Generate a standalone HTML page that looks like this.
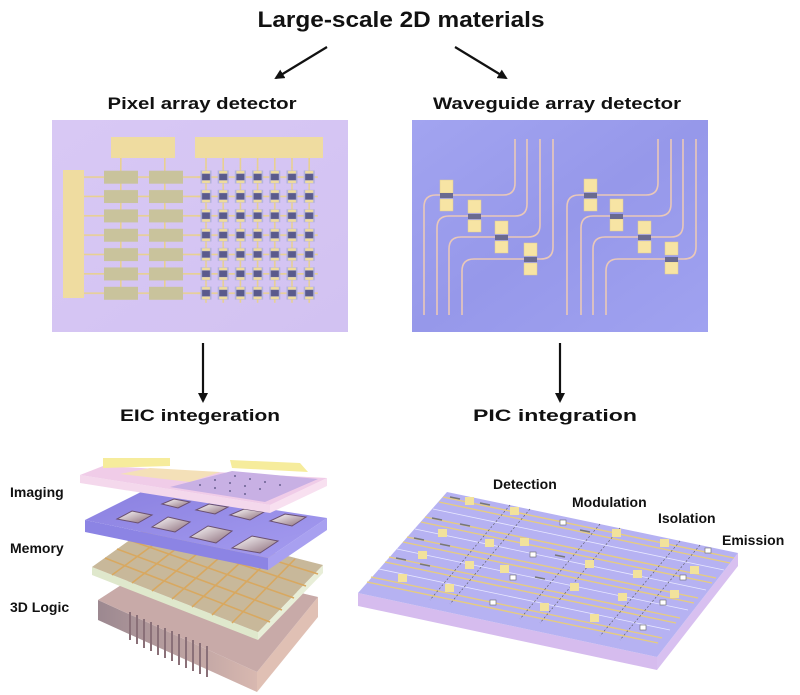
<!DOCTYPE html>
<html><head><meta charset="utf-8"><style>
html,body{margin:0;padding:0;background:#fff;}
svg{display:block;}
text{font-family:"Liberation Sans",sans-serif;font-weight:bold;fill:#111;}
</style></head><body>
<svg width="800" height="695" viewBox="0 0 800 695" xmlns="http://www.w3.org/2000/svg">
<defs>
<marker id="ah" markerWidth="10" markerHeight="10" refX="8" refY="5" orient="auto" markerUnits="userSpaceOnUse">
<path d="M0,0 L10,5 L0,10 Z" fill="#111"/></marker>
<pattern id="pix" x="197.4" y="167.3" width="17.2" height="19.35" patternUnits="userSpaceOnUse">
<rect x="0" y="9" width="17.2" height="1.6" fill="#e8d090"/>
<rect x="7.8" y="0" width="1.6" height="19.35" fill="#e8d090"/>
<rect x="3.1" y="3.2" width="11" height="13" fill="#b0b0dc"/>
<rect x="4.6" y="6.5" width="8" height="6.4" fill="#5a5a8c"/>
<rect x="4.6" y="3.6" width="8" height="2.6" fill="#f0dc9c"/>
<rect x="4.6" y="13.2" width="8" height="2.6" fill="#f0dc9c"/>
</pattern>
<pattern id="grn" x="100" y="167.3" width="100" height="19.35" patternUnits="userSpaceOnUse">
<rect x="0" y="9" width="100" height="1.6" fill="#e8d090"/>
<rect x="4" y="3.4" width="34" height="13" fill="#c9c39c"/>
<rect x="49" y="3.4" width="34" height="13" fill="#c9c39c"/>
</pattern>
<linearGradient id="lg1" x1="0" y1="0" x2="1" y2="1"><stop offset="0" stop-color="#d8c8f4"/><stop offset="1" stop-color="#d2c2f2"/></linearGradient>
<linearGradient id="lg2" x1="0" y1="0" x2="1" y2="1"><stop offset="0" stop-color="#a2a4f0"/><stop offset="0.5" stop-color="#9698ea"/><stop offset="1" stop-color="#a0a2f0"/></linearGradient>
<linearGradient id="mem" x1="0" y1="0" x2="1" y2="1"><stop offset="0" stop-color="#8a80e0"/><stop offset="1" stop-color="#a59cf0"/></linearGradient>
<linearGradient id="logic" x1="0" y1="0" x2="1" y2="0"><stop offset="0" stop-color="#9c8890"/><stop offset="1" stop-color="#d8b8b0"/></linearGradient>
<linearGradient id="win" x1="0" y1="0" x2="1" y2="1"><stop offset="0" stop-color="#fff"/><stop offset="1" stop-color="#8a6a78"/></linearGradient>
</defs>

<text x="401" y="27" font-size="22" text-anchor="middle" textLength="287" lengthAdjust="spacingAndGlyphs">Large-scale 2D materials</text>
<line x1="327" y1="47" x2="276" y2="78" stroke="#111" stroke-width="2.2" marker-end="url(#ah)"/>
<line x1="455" y1="47" x2="506" y2="78" stroke="#111" stroke-width="2.2" marker-end="url(#ah)"/>
<text x="202" y="109" font-size="17" text-anchor="middle" textLength="189" lengthAdjust="spacingAndGlyphs">Pixel array detector</text>
<text x="557" y="109" font-size="17" text-anchor="middle" textLength="248" lengthAdjust="spacingAndGlyphs">Waveguide array detector</text>

<!-- pixel panel -->
<rect x="52" y="120" width="296" height="212" fill="url(#lg1)"/>
<rect x="111" y="137" width="64" height="21" fill="#efdca0"/>
<rect x="195" y="137" width="128" height="21" fill="#efdca0"/>
<rect x="120" y="158" width="1.6" height="140" fill="#e8d090"/>
<rect x="164" y="158" width="1.6" height="140" fill="#e8d090"/>
<rect x="84" y="167" width="116" height="136" fill="url(#grn)"/>
<g fill="#e8d090">
<rect x="205.2" y="158" width="1.6" height="10"/><rect x="222.4" y="158" width="1.6" height="10"/><rect x="239.6" y="158" width="1.6" height="10"/><rect x="256.8" y="158" width="1.6" height="10"/><rect x="274" y="158" width="1.6" height="10"/><rect x="291.2" y="158" width="1.6" height="10"/><rect x="308.4" y="158" width="1.6" height="10"/>
</g>
<rect x="197.4" y="167.3" width="120.4" height="135.5" fill="url(#pix)"/>
<rect x="63" y="170" width="21" height="128" fill="#efdca0"/>

<!-- waveguide panel -->
<rect x="412" y="120" width="296" height="212" fill="url(#lg2)"/>
<g fill="none" stroke="#eac8b8" stroke-width="1.6">
<path d="M424,315 V207 Q424,195 436,195 H503 Q515,195 515,183 V139"/>
<path d="M437,315 V228 Q437,216 449,216 H515 Q527,216 527,204 V139"/>
<path d="M449,315 V249 Q449,237 461,237 H528 Q540,237 540,225 V139"/>
<path d="M462,315 V271 Q462,259 474,259 H541 Q553,259 553,247 V139"/>
<path d="M567,315 V207 Q567,195 579,195 H646 Q658,195 658,183 V139"/>
<path d="M581,315 V228 Q581,216 593,216 H659 Q671,216 671,204 V139"/>
<path d="M593,315 V249 Q593,237 605,237 H671 Q683,237 683,225 V139"/>
<path d="M606,315 V271 Q606,259 618,259 H684 Q696,259 696,247 V139"/>
</g>
<g fill="#f7e4a4" stroke="#e0cc90" stroke-width="0.5">
<rect x="440" y="180" width="13" height="13"/><rect x="440" y="199" width="13" height="12"/>
<rect x="468" y="200" width="13" height="13"/><rect x="468" y="220" width="13" height="12"/>
<rect x="495" y="221" width="13" height="13"/><rect x="495" y="241" width="13" height="12"/>
<rect x="524" y="243" width="13" height="13"/><rect x="524" y="263" width="13" height="12"/>
<rect x="584" y="179" width="13" height="13"/><rect x="584" y="199" width="13" height="12"/>
<rect x="610" y="199" width="13" height="13"/><rect x="610" y="219" width="13" height="12"/>
<rect x="638" y="221" width="13" height="13"/><rect x="638" y="241" width="13" height="12"/>
<rect x="665" y="242" width="13" height="13"/><rect x="665" y="262" width="13" height="12"/>
</g>
<g fill="#6a6a90">
<rect x="440" y="193" width="13" height="5"/><rect x="468" y="214" width="13" height="5"/>
<rect x="495" y="235" width="13" height="5"/><rect x="524" y="257" width="13" height="5"/>
<rect x="584" y="193" width="13" height="5"/><rect x="610" y="214" width="13" height="5"/>
<rect x="638" y="235" width="13" height="5"/><rect x="665" y="257" width="13" height="5"/>
</g>

<line x1="203" y1="343" x2="203" y2="401" stroke="#111" stroke-width="2.2" marker-end="url(#ah)"/>
<line x1="560" y1="343" x2="560" y2="401" stroke="#111" stroke-width="2.2" marker-end="url(#ah)"/>
<text x="200" y="421" font-size="17" text-anchor="middle" textLength="160" lengthAdjust="spacingAndGlyphs">EIC integeration</text>
<text x="555" y="421" font-size="17" text-anchor="middle" textLength="164" lengthAdjust="spacingAndGlyphs">PIC integration</text>

<!-- logic -->
<polygon points="98,600 257,672 257,692 98,620" fill="url(#logic)"/>
<polygon points="257,672 318,597 318,617 257,692" fill="#e0c0b4"/>
<polygon points="98,600 160,560 318,597 257,672" fill="#c8aaa8"/>
<g stroke="#8a7078" stroke-width="2">
<line x1="130" y1="612" x2="130" y2="640"/><line x1="137" y1="615" x2="137" y2="644"/><line x1="144" y1="619" x2="144" y2="648"/>
<line x1="151" y1="622" x2="151" y2="651"/><line x1="158" y1="625" x2="158" y2="655"/><line x1="165" y1="628" x2="165" y2="658"/>
<line x1="172" y1="631" x2="172" y2="661"/><line x1="179" y1="634" x2="179" y2="665"/><line x1="186" y1="637" x2="186" y2="668"/>
<line x1="193" y1="640" x2="193" y2="671"/><line x1="200" y1="643" x2="200" y2="674"/><line x1="207" y1="646" x2="207" y2="677"/>
</g>
<!-- grid layer -->
<polygon points="92,567 258,632 258,640 92,575" fill="#dfe8cc"/>
<polygon points="258,632 323,565 323,573 258,640" fill="#e8eed8"/>
<polygon points="92,567 155,522 323,565 258,632" fill="#c8b89a"/>
<g stroke="#d8a860" stroke-width="1.6">
<line x1="105" y1="558" x2="270" y2="622"/><line x1="117" y1="549" x2="282" y2="610"/><line x1="129" y1="540" x2="294" y2="598"/><line x1="141" y1="531" x2="306" y2="586"/><line x1="153" y1="523" x2="318" y2="574"/>
<line x1="112" y1="575" x2="175" y2="529"/><line x1="132" y1="583" x2="195" y2="534"/><line x1="152" y1="591" x2="215" y2="539"/><line x1="172" y1="599" x2="235" y2="544"/><line x1="192" y1="607" x2="255" y2="549"/><line x1="212" y1="615" x2="275" y2="554"/><line x1="232" y1="623" x2="295" y2="559"/>
</g>
<!-- memory -->
<polygon points="85,520 268,558 268,570 85,532" fill="#8c84e4"/>
<polygon points="268,558 327,518 327,530 268,570" fill="#a8a0f0"/>
<polygon points="85,520 145,490 327,518 268,558" fill="url(#mem)"/>
<g fill="url(#win)" stroke="#6a5070" stroke-width="1">
<polygon points="117,519 132,511 152,515 138,523"/>
<polygon points="152,527 168,517 190,522 175,532"/>
<polygon points="190,537 208,526 232,531 216,543"/>
<polygon points="232,548 252,536 278,541 260,553"/>
<polygon points="162,504 174,499 190,502 178,508"/>
<polygon points="196,510 209,504 228,507 215,514"/>
<polygon points="230,515 244,509 264,512 250,520"/>
<polygon points="270,521 285,514 306,517 292,526"/>
</g>
<!-- imaging -->
<polygon points="80,475 270,505 270,513 80,483" fill="#f4d8ec"/>
<polygon points="270,505 327,478 327,486 270,513" fill="#f8e0f0"/>
<polygon points="80,475 103,466 327,478 270,505" fill="#f0cce8"/>
<polygon points="103,458 170,458 170,466 103,468" fill="#f6ec9c"/>
<polygon points="230,460 300,463 308,472 232,468" fill="#f6ec9c"/>
<polygon points="120,474 150,468 220,472 190,482" fill="#f4e0b8"/>
<polygon points="170,487 232,471 318,479 265,502" fill="#c8b0e4"/>
<g fill="#6a6090">
<circle cx="200" cy="485" r="1"/><circle cx="215" cy="488" r="1"/><circle cx="230" cy="491" r="1"/><circle cx="245" cy="494" r="1"/>
<circle cx="215" cy="480" r="1"/><circle cx="230" cy="483" r="1"/><circle cx="245" cy="486" r="1"/><circle cx="260" cy="489" r="1"/>
<circle cx="235" cy="476" r="1"/><circle cx="250" cy="479" r="1"/><circle cx="265" cy="482" r="1"/><circle cx="280" cy="485" r="1"/>
</g>
<text x="10" y="497" font-size="14">Imaging</text>
<text x="10" y="553" font-size="14">Memory</text>
<text x="10" y="612" font-size="14">3D Logic</text>

<!-- PIC slab -->
<polygon points="358,593 657,657 657,670 358,606" fill="#d6bcee"/>
<polygon points="657,657 738,553 738,566 657,670" fill="#d8c0f0"/>
<polygon points="358,593 447,492 738,553 657,657" fill="#b6b2f2"/>
<g stroke="#e6cc80" stroke-width="1.4">
<line x1="443" y1="497" x2="734" y2="558"/><line x1="439" y1="502" x2="730" y2="563"/>
<line x1="425" y1="517" x2="716" y2="578"/><line x1="421" y1="522" x2="712" y2="583"/>
<line x1="407" y1="537" x2="698" y2="598"/><line x1="403" y1="542" x2="694" y2="603"/>
<line x1="389" y1="557" x2="680" y2="618"/><line x1="385" y1="562" x2="676" y2="623"/>
<line x1="371" y1="577" x2="662" y2="638"/><line x1="367" y1="582" x2="658" y2="643"/>
</g>
<g stroke="#e8e8ff" stroke-width="0.8">
<line x1="433" y1="509" x2="724" y2="570"/><line x1="415" y1="529" x2="706" y2="590"/><line x1="397" y1="549" x2="688" y2="610"/><line x1="379" y1="569" x2="670" y2="630"/>
</g>
<g stroke="#555" stroke-width="0.6" stroke-dasharray="2,2">
<line x1="510" y1="505" x2="430" y2="600"/><line x1="530" y1="509" x2="450" y2="604"/>
<line x1="600" y1="524" x2="520" y2="619"/><line x1="620" y1="528" x2="540" y2="623"/>
<line x1="680" y1="541" x2="600" y2="636"/><line x1="700" y1="545" x2="620" y2="640"/>
</g>
<g stroke="#777" stroke-width="1.6">
<line x1="450" y1="497" x2="460" y2="499"/><line x1="480" y1="503" x2="490" y2="505"/><line x1="432" y1="518" x2="442" y2="520"/><line x1="460" y1="524" x2="470" y2="526"/>
<line x1="414" y1="538" x2="424" y2="540"/><line x1="440" y1="544" x2="450" y2="546"/><line x1="396" y1="558" x2="406" y2="560"/><line x1="420" y1="564" x2="430" y2="566"/>
<line x1="580" y1="530" x2="590" y2="532"/><line x1="555" y1="555" x2="565" y2="557"/><line x1="535" y1="577" x2="545" y2="579"/>
</g>
<g fill="#f2e29c">
<rect x="465" y="497" width="9" height="8"/><rect x="510" y="507" width="9" height="8"/><rect x="612" y="529" width="9" height="8"/><rect x="660" y="539" width="9" height="8"/>
<rect x="438" y="529" width="9" height="8"/><rect x="485" y="539" width="9" height="8"/><rect x="585" y="560" width="9" height="8"/><rect x="633" y="570" width="9" height="8"/>
<rect x="418" y="551" width="9" height="8"/><rect x="465" y="561" width="9" height="8"/><rect x="570" y="583" width="9" height="8"/><rect x="618" y="593" width="9" height="8"/>
<rect x="398" y="574" width="9" height="8"/><rect x="445" y="584" width="9" height="8"/><rect x="540" y="603" width="9" height="8"/><rect x="590" y="614" width="9" height="8"/>
<rect x="520" y="538" width="9" height="8"/><rect x="500" y="565" width="9" height="8"/><rect x="690" y="566" width="9" height="8"/><rect x="670" y="590" width="9" height="8"/>
</g>
<g fill="#fff" stroke="#666" stroke-width="0.6">
<rect x="560" y="520" width="6" height="5"/><rect x="530" y="552" width="6" height="5"/><rect x="510" y="575" width="6" height="5"/><rect x="490" y="600" width="6" height="5"/>
<rect x="705" y="548" width="6" height="5"/><rect x="680" y="575" width="6" height="5"/><rect x="660" y="600" width="6" height="5"/><rect x="640" y="625" width="6" height="5"/>
</g>
<text x="493" y="489" font-size="14">Detection</text>
<text x="572" y="507" font-size="14">Modulation</text>
<text x="658" y="523" font-size="14">Isolation</text>
<text x="722" y="545" font-size="14">Emission</text>
</svg>
</body></html>
